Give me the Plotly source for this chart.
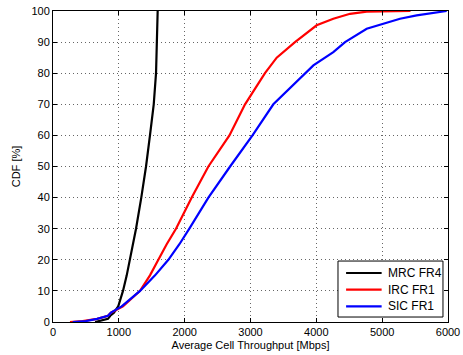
import plotly.graph_objects as go

# MRC FR4 (black)
mrc_x = [640, 750, 835, 870, 925, 990, 1063, 1120, 1170, 1220, 1261, 1341, 1413, 1473, 1530, 1565, 1580, 1590]
mrc_y = [0, 0.5, 1, 2, 3, 5, 10, 15, 20, 25, 30, 40, 50, 60, 70, 80, 90, 100]

# IRC FR1 (red)
irc_x = [258, 450, 670, 835, 880, 1063, 1322, 1473, 1600, 1727, 1868, 2107, 2360, 2680, 2917, 3220, 3398,
         3676, 4005, 4258, 4512, 4765, 5430]
irc_y = [0, 0.3, 1, 2, 3, 5, 10, 15, 20, 25, 30, 40, 50, 60, 70, 80, 85,
         90, 95.4, 97.5, 99.1, 99.8, 100]

# SIC FR1 (blue)
sic_x = [300, 500, 670, 835, 880, 1043, 1322, 1550, 1752, 1920, 2071, 2360, 2690, 3030, 3347, 3828, 3955,
         4258, 4436, 4765, 5018, 5271, 5524, 5980]
sic_y = [0, 0.3, 1, 2, 3, 5, 10, 15, 20, 25, 30, 40, 50, 60, 70, 80, 82.5,
         86.8, 90, 94.3, 95.9, 97.5, 98.6, 100]

series_names = ["MRC FR4", "IRC FR1", "SIC FR1"]
series_colors = ["black", "red", "blue"]

x_ticks = [0, 1000, 2000, 3000, 4000, 5000, 6000]
y_ticks = [0, 10, 20, 30, 40, 50, 60, 70, 80, 90, 100]

FONT = "Liberation Sans, Arial, Helvetica, sans-serif"

fig = go.Figure()
for xs, ys, name, col in zip([mrc_x, irc_x, sic_x], [mrc_y, irc_y, sic_y], series_names, series_colors):
    fig.add_trace(go.Scatter(x=xs, y=ys, mode="lines", name=name, showlegend=False,
                             line=dict(color=col, width=2.2)))

axis_common = dict(
    showline=True, linecolor="black", linewidth=1, mirror="ticks",
    ticks="inside", ticklen=4, tickcolor="black",
    showgrid=True, gridcolor="rgba(0,0,0,0.6)", griddash="1px,3px", gridwidth=1,
    zeroline=False, tickfont=dict(size=11, color="black", family=FONT),
    automargin=False,
)

fig.update_xaxes(range=[0, 6000], tickvals=x_ticks, ticktext=[str(v) for v in x_ticks],
                 title=dict(text="Average Cell Throughput [Mbps]", font=dict(size=11, color="black", family=FONT),
                            standoff=4),
                 **axis_common)
fig.update_yaxes(range=[0, 100], tickvals=y_ticks, ticktext=[str(v) for v in y_ticks],
                 title=dict(text="CDF [%]", font=dict(size=11, color="black", family=FONT), standoff=8),
                 **axis_common)

# Legend box (MATLAB style), drawn in paper coordinates
shapes = [dict(type="rect", xref="paper", yref="paper", x0=0.7215, x1=0.9873, y0=0.016, y1=0.196,
               fillcolor="white", line=dict(color="black", width=1), layer="above")]
annotations = []
entry_y = [0.1576, 0.1039, 0.0502]
for name, col, yy in zip(series_names, series_colors, entry_y):
    shapes.append(dict(type="line", xref="paper", yref="paper", x0=0.742, x1=0.832, y0=yy, y1=yy,
                       line=dict(color=col, width=2.2), layer="above"))
    annotations.append(dict(text=name, xref="paper", yref="paper", x=0.843, y=yy,
                            xanchor="left", yanchor="middle", showarrow=False,
                            font=dict(size=12, family=FONT, color="black")))

fig.update_layout(
    width=463, height=355,
    margin=dict(l=53, r=15, t=11, b=33),
    paper_bgcolor="white", plot_bgcolor="white",
    font=dict(family=FONT, size=11, color="black"),
    showlegend=False,
    shapes=shapes,
    annotations=annotations,
)

fig.write_html("out.html")
